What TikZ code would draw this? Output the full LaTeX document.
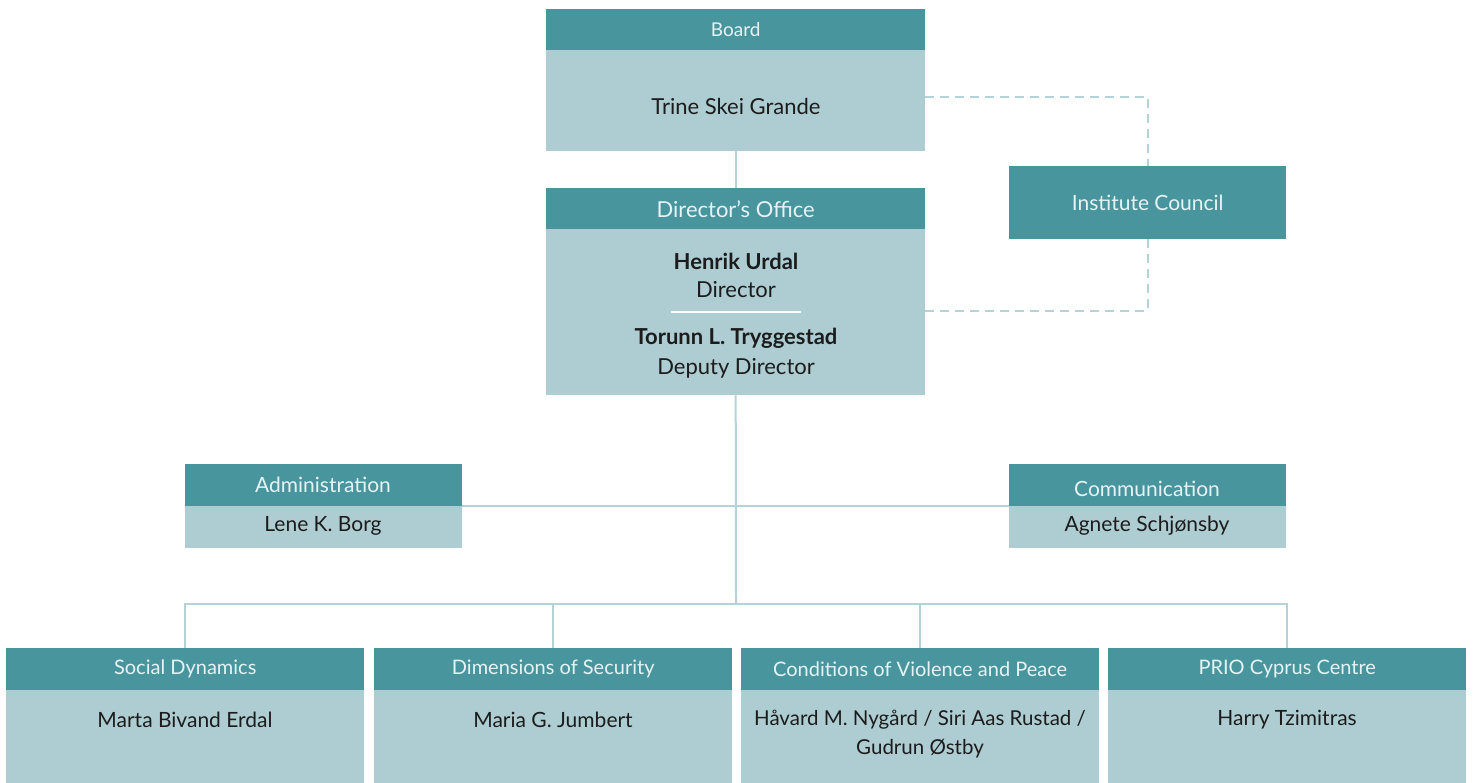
\documentclass[tikz,border=0pt]{standalone}
\usepackage{fontspec}
\setmainfont{Lato}
\definecolor{teal}{HTML}{48959E}
\definecolor{pale}{HTML}{AECDD2}
\definecolor{linec}{HTML}{B3D3D8}
\definecolor{hdtext}{HTML}{E6F3F4}
\definecolor{bodytext}{HTML}{1C1C1C}
\begin{document}
\begin{tikzpicture}[x=1pt,y=-1pt,
  hdr/.style={fill=teal,inner sep=0,anchor=north west,text=hdtext,font=\fontsize{20}{22}\selectfont},
  hdtxt/.style={text=hdtext,inner sep=0,font=\fontsize{21}{24}\selectfont},
  bodybox/.style={fill=pale,inner sep=0,anchor=north west},
  txt/.style={text=bodytext,font=\fontsize{21}{24}\selectfont,inner sep=0,align=center},
  bigtxt/.style={txt,font=\fontsize{22}{25}\selectfont},
  conn/.style={draw=linec,line width=2pt},
  dashconn/.style={draw=linec,line width=2pt,dash pattern=on 9pt off 6pt}]
\useasboundingbox (0,0) rectangle (1474,783);
% Board
\node[hdr,minimum width=379,minimum height=41,font=\fontsize{19}{21}\selectfont] (boardH) at (546,9) {Board};
\node[bodybox,minimum width=379,minimum height=101] (boardB) at (546,50) {};
\node[bigtxt] (boardT) at (736,106) {Trine Skei Grande};
% Director's Office
\node[hdr,minimum width=379,minimum height=41,font=\fontsize{22}{24}\selectfont] (dirH) at (546,188) {Director’s Office};
\node[bodybox,minimum width=379,minimum height=166] (dirB) at (546,229) {};
\node[bigtxt,font=\fontsize{22}{25}\selectfont\bfseries] (hu) at (736,261) {Henrik Urdal};
\node[bigtxt] (hut) at (736,290) {Director};
\coordinate (sepL) at (671,312);
\coordinate (sepR) at (801,312);
\draw[white,line width=1.2pt] (sepL) -- (sepR);
\node[bigtxt,font=\fontsize{22}{25}\selectfont\bfseries] (tt) at (736,338) {Torunn L. Tryggestad};
\node[bigtxt] (ttt) at (736,368) {Deputy Director};
% Institute Council
\node[hdr,minimum width=277,minimum height=73,font=\fontsize{21}{24}\selectfont] (ic) at (1009,166) {Institute Council};
% Administration / Communication
\node[hdr,minimum width=277,minimum height=42] (admH) at (185,464) {};
\node[hdtxt] (admL) at (323,485) {Administration};
\node[bodybox,minimum width=277,minimum height=42] (admB) at (185,506) {};
\node[txt] (admT) at (323,526) {Lene K. Borg};
\node[hdr,minimum width=277,minimum height=42] (comH) at (1009,464) {};
\node[hdtxt] (comL) at (1147,489) {Communication};
\node[bodybox,minimum width=277,minimum height=42] (comB) at (1009,506) {};
\node[txt] (comT) at (1147,526) {Agnete Schjønsby};
% Bottom departments
\node[hdr,minimum width=358,minimum height=42] (sdH) at (6,648) {Social Dynamics};
\node[bodybox,minimum width=358,minimum height=93] (sdB) at (6,690) {};
\node[txt] (sdT) at (185,720) {Marta Bivand Erdal};
\node[hdr,minimum width=358,minimum height=42] (dsH) at (374,648) {Dimensions of Security};
\node[bodybox,minimum width=358,minimum height=93] (dsB) at (374,690) {};
\node[txt] (dsT) at (553,720) {Maria G. Jumbert};
\node[hdr,minimum width=358,minimum height=42] (cvH) at (741,648) {Conditions of Violence and Peace};
\node[bodybox,minimum width=358,minimum height=93] (cvB) at (741,690) {};
\node[txt,font=\fontsize{20.5}{29}\selectfont] (cvT) at (920,734) {Håvard M. Nygård / Siri Aas Rustad /\\Gudrun Østby};
\node[hdr,minimum width=358,minimum height=42] (pcH) at (1108,648) {PRIO Cyprus Centre};
\node[bodybox,minimum width=358,minimum height=93] (pcB) at (1108,690) {};
\node[txt] (pcT) at (1287,720) {Harry Tzimitras};
% Connectors
\coordinate (bus) at (736,604);
\coordinate (bdE) at (925,97);
\coordinate (drE) at (925,311);
\draw[conn] (boardB.south) -- (dirH.north);
\draw[conn] (dirB.south) -- (bus);
\draw[conn] (admH.south east) -- (comH.south west);
\draw[conn] (sdH.north) |- (bus) -| (pcH.north);
\draw[conn] (dsH.north) -- (dsH.north |- bus);
\draw[conn] (cvH.north) -- (cvH.north |- bus);
\draw[dashconn] (bdE) -| (ic.north);
\draw[dashconn] (ic.south) |- (drE);
\end{tikzpicture}
\end{document}
